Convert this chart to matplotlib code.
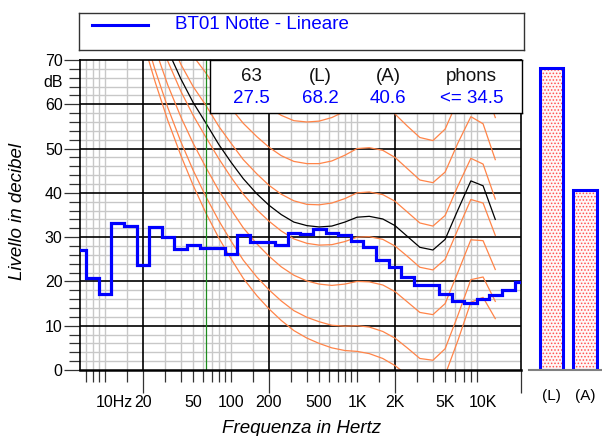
import numpy as np
import matplotlib
matplotlib.use("Agg")
import matplotlib.pyplot as plt
from matplotlib.ticker import NullFormatter
from matplotlib.transforms import blended_transform_factory, offset_copy

plt.rcParams['font.family'] = ['Liberation Sans', 'DejaVu Sans']
plt.rcParams['hatch.linewidth'] = 0.7

# 1/3 octave spectrum (dB, linear weighting)
bands = [6.3, 8, 10, 12.5, 16, 20, 25, 31.5, 40, 50, 63, 80, 100, 125, 160,
         200, 250, 315, 400, 500, 630, 800, 1000, 1250, 1600, 2000, 2500,
         3150, 4000, 5000, 6300, 8000, 10000, 12500, 16000, 20000]
spectrum = [27.1, 20.7, 17.2, 33.3, 32.5, 23.6, 32.4, 30.1, 27.4, 28.2, 27.5,
            27.5, 26.3, 30.4, 29.0, 29.0, 28.2, 30.9, 30.7, 31.8, 31.0, 30.5,
            29.2, 27.8, 24.8, 23.3, 20.9, 19.2, 19.2, 17.2, 15.5, 15.2, 16.1,
            17.0, 18.0, 19.8]

# equal loudness contours
curve_freqs = [20, 25, 31.5, 40, 50, 63, 80, 100, 125, 160, 200, 250, 315, 400,
               500, 630, 800, 1000, 1250, 1600, 2000, 2500, 3150, 4000, 5000,
               6300, 8000, 10000, 12500]
maf = [74.3, 65.0, 56.3, 48.4, 41.7, 35.5, 29.8, 25.1, 20.7, 16.8, 13.8, 11.2, 8.9, 7.2,
       6.0, 5.0, 4.4, 4.2, 3.7, 2.6, 1.0, -1.2, -3.6, -3.9, -1.1, 6.6, 15.3, 16.4, 11.6]
phon10 = [76.8, 67.7, 59.2, 51.5, 45.1, 39.2, 33.7, 29.1, 24.8, 21.0, 18.1, 15.6, 13.4, 11.9,
          10.9, 10.1, 9.9, 10.0, 9.7, 8.7, 7.2, 5.0, 2.6, 2.2, 4.8, 12.3, 20.4, 21.0, 15.5]
phon20 = [81.3, 72.5, 64.3, 57.1, 51.2, 45.8, 40.5, 36.2, 32.1, 28.5, 25.7, 23.3, 21.4, 20.1,
          19.4, 19.1, 19.4, 20.0, 19.9, 19.2, 17.7, 15.4, 13.0, 12.5, 15.0, 22.0, 29.4, 29.2, 22.7]
phon30 = [86.0, 77.6, 69.7, 62.9, 57.5, 52.6, 47.7, 43.5, 39.7, 36.2, 33.6, 31.4, 29.6, 28.6,
          28.2, 28.3, 29.0, 30.0, 30.1, 29.5, 28.0, 25.7, 23.2, 22.6, 25.0, 31.7, 38.5, 37.7, 30.4]
phon40 = [91.0, 82.9, 75.4, 69.0, 64.0, 59.8, 55.0, 51.2, 47.5, 44.3, 41.7, 39.7, 38.2, 37.4,
          37.3, 37.7, 38.7, 40.0, 40.2, 39.6, 38.1, 35.7, 33.2, 32.5, 34.9, 41.5, 47.8, 46.5, 38.6]
phon50 = [96.2, 88.5, 81.3, 75.4, 70.9, 67.1, 62.7, 59.1, 55.7, 52.7, 50.3, 48.4, 47.1, 46.6,
          46.6, 47.2, 48.5, 50.0, 50.2, 49.6, 48.0, 45.5, 42.9, 42.3, 44.7, 51.2, 57.2, 55.6, 47.5]
phon60 = [101.7, 94.4, 87.6, 82.2, 78.0, 74.8, 70.6, 67.3, 64.2, 61.4, 59.2, 57.5, 56.3, 56.0,
          56.2, 57.0, 58.4, 60.0, 60.1, 59.5, 57.8, 55.1, 52.5, 51.8, 54.4, 60.9, 66.7, 65.0, 57.0]
phon_meas = [88.2, 79.9, 72.2, 65.7, 60.4, 55.8, 50.9, 46.9, 43.2, 39.8, 37.2, 35.1, 33.4, 32.6,
             32.3, 32.5, 33.4, 34.5, 34.7, 34.1, 32.6, 30.2, 27.7, 27.1, 29.5, 36.1, 42.7, 41.6, 34.0]

# summary values
info_headers = ['63', '(L)', '(A)', 'phons']
info_values = ['27.5', '68.2', '40.6', '<= 34.5']
bar_labels = ['(L)', '(A)']
bar_values = [68.2, 40.6]

x_labels = [(10, '10Hz'), (20, '20'), (50, '50'), (100, '100'), (200, '200'),
            (500, '500'), (1000, '1K'), (2000, '2K'), (5000, '5K'), (10000, '10K')]

W, H = 602, 436
BLUE = '#0000ff'
ORANGE = '#ff8448'


def box(l, t, r, b):
    return [l / W, 1 - b / H, (r - l) / W, (b - t) / H]


fig = plt.figure(figsize=(W / 100, H / 100), dpi=100)

ax = fig.add_axes(box(80, 60, 521, 370))
ax.set_xscale('log')
ax.set_xlim(20 / np.sqrt(10), 20000)
ax.set_ylim(0, 70)

major_f = [20, 200, 2000, 20000]
minor_f = []
for dec in [1, 10, 100, 1000]:
    minor_f += [m * dec for m in [1, 1.5, 3, 4, 5, 6, 7, 8, 9]]
minor_f = [f for f in minor_f if f > 6.5]

# grid
for f in minor_f:
    ax.axvline(f, color='#c8c8c8', lw=1.0, zorder=0)
for y in range(2, 70, 2):
    if y % 10:
        ax.axhline(y, color='#c8c8c8', lw=1.0, zorder=0)
for f in major_f[:-1]:
    ax.axvline(f, color='black', lw=1.2, zorder=0.5)
for y in range(10, 70, 10):
    ax.axhline(y, color='black', lw=1.2, zorder=0.5)

# ticks
ax.set_xticks(major_f)
ax.set_xticks(minor_f, minor=True)
ax.xaxis.set_major_formatter(NullFormatter())
ax.xaxis.set_minor_formatter(NullFormatter())
ax.tick_params(axis='x', which='major', length=16.5, width=0.9, color='#333333')
ax.tick_params(axis='x', which='minor', length=8.6, width=0.9, color='#333333')
ax.set_yticks(range(0, 71, 10))
ax.set_yticks(range(0, 71, 2), minor=True)
ax.tick_params(axis='y', which='major', length=11.5, width=0.9, pad=1,
               labelsize=11.5, color='#333333')
ax.tick_params(axis='y', which='minor', length=8, width=0.9, color='#333333')

for s in ax.spines.values():
    s.set_linewidth(1.2)
ax.spines['bottom'].set_linewidth(1.8)

tr = blended_transform_factory(ax.transData, ax.transAxes)
for f, lab in x_labels:
    if lab == '10Hz':
        ax.text(f, -0.106, lab, transform=offset_copy(tr, fig=fig, x=-6.5, units='points'),
                ha='left', va='center', fontsize=11.5)
    else:
        ax.text(f, -0.106, lab, transform=tr, ha='center', va='center', fontsize=11.5)
ax.text(-0.0385, 65, 'dB', transform=blended_transform_factory(ax.transAxes, ax.transData),
        ha='right', va='center', fontsize=11.5)

# curves
for c in [maf, phon10, phon20, phon30, phon40, phon50, phon60]:
    ax.plot(curve_freqs, c, color=ORANGE, lw=0.9, zorder=2)
ax.plot(curve_freqs, phon_meas, color='black', lw=0.9, zorder=2)
ax.axvline(63, color='#1e8c1e', lw=0.9, zorder=2)

edges = 1000 * 10 ** ((np.arange(-22, 15) - 0.5) / 10)
ax.stairs(spectrum, edges, baseline=None, color=BLUE, lw=2.3, zorder=4)

fig.text(302 / W, 1 - 428 / H, 'Frequenza in Hertz', style='italic', fontsize=13.5,
         ha='center', va='center')
fig.text(18 / W, 1 - 212 / H, 'Livello in decibel', style='italic', fontsize=13.5,
         rotation=90, ha='center', va='center')

# info box
ib = fig.add_axes(box(210, 60, 522, 113))
ib.set_xlim(0, 1)
ib.set_ylim(0, 1)
ib.set_xticks([])
ib.set_yticks([])
for s in ib.spines.values():
    s.set_linewidth(1.0)
for xp, h, v in zip([0.134, 0.353, 0.571, 0.839], info_headers, info_values):
    ib.text(xp, 0.685, h, ha='center', va='center', fontsize=13.5, color='#111111')
    ib.text(xp, 0.277, v, ha='center', va='center', fontsize=13.5, color=BLUE)

# legend box
lg = fig.add_axes(box(79, 13, 524, 50))
lg.set_xlim(0, 1)
lg.set_ylim(0, 1)
lg.set_xticks([])
lg.set_yticks([])
for s in lg.spines.values():
    s.set_linewidth(1.0)
    s.set_color('#333333')
lg.plot([0.029, 0.155], [0.676, 0.676], color=BLUE, lw=2.2)
lg.text(0.216, 0.70, 'BT01 Notte - Lineare', color=BLUE, fontsize=13.5, va='center')

# overall level bars
bx = fig.add_axes(box(529, 60, 602, 370))
bx.set_ylim(0, 70)
bx.set_xlim(-0.68, 1.51)
pos = np.arange(len(bar_values))
bx.bar(pos, bar_values, width=0.7, color='#fff6f6', edgecolor='#ff5050',
       hatch='.....', lw=0)
bx.bar(pos, bar_values, width=0.7, fill=False, edgecolor=BLUE, lw=2.2)
for k in ['top', 'left', 'right']:
    bx.spines[k].set_visible(False)
bx.spines['bottom'].set_color('#808080')
bx.spines['bottom'].set_linewidth(1.5)
bx.patch.set_alpha(0)
bx.set_yticks([])
bx.set_xticks(pos)
bx.set_xticklabels(bar_labels, fontsize=11)
bx.tick_params(axis='x', length=0, pad=14)

fig.savefig('out.png', dpi=100)
